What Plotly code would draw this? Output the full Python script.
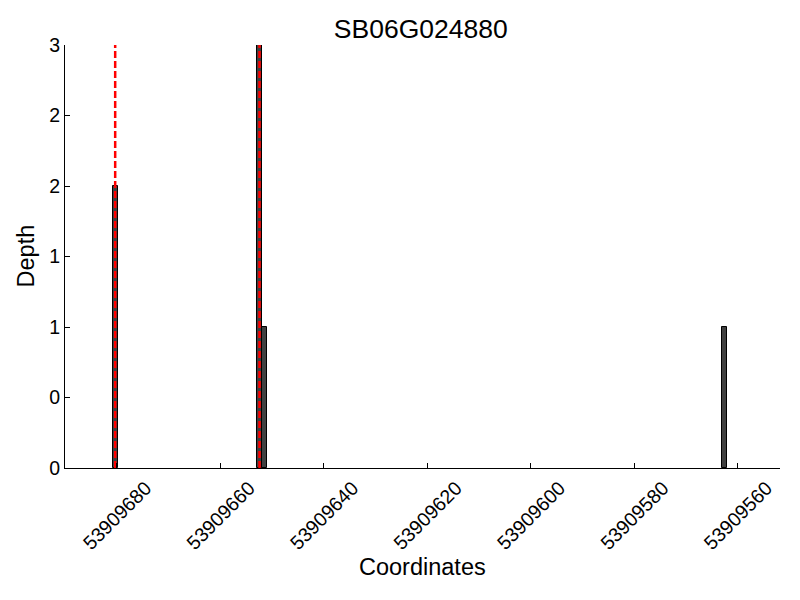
import plotly.graph_objects as go

title = "SB06G024880"
coords = [53909680.3, 53909652.45, 53909651.45, 53909562.45]
depth = [2, 3, 1, 1]
marker_lines = [53909680.3, 53909652.4]
x_ticks = [53909680, 53909660, 53909640, 53909620, 53909600, 53909580, 53909560]
y_ticks = [0, 0.5, 1, 1.5, 2, 2.5, 3]
y_tick_text = [str(int(v)) for v in y_ticks]

fig = go.Figure()
fig.add_trace(go.Bar(
    x=coords, y=depth, width=0.95,
    marker=dict(color="#404040", line=dict(color="black", width=1)),
    showlegend=False,
))
for xv in marker_lines:
    fig.add_trace(go.Scatter(
        x=[xv, xv], y=[y_ticks[0], y_ticks[-1]], mode="lines",
        line=dict(color="red", width=2.5, dash="7px,3px"),
        showlegend=False, hoverinfo="skip",
    ))

font_family = "Liberation Sans, Arial, sans-serif"
fig.update_layout(
    width=800, height=600,
    margin=dict(l=65, r=20, t=45, b=132, autoexpand=False),
    paper_bgcolor="white", plot_bgcolor="white",
    font=dict(family=font_family, color="black", size=19.5),
    title=dict(text=title, x=0.526, xanchor="center", y=0.952, yanchor="middle",
               font=dict(size=26.5, family=font_family, color="black")),
    bargap=0,
    annotations=[
        dict(text="Coordinates", xref="paper", yref="paper", x=0.5, y=-0.234,
             xanchor="center", yanchor="middle", showarrow=False,
             font=dict(size=23.5, family=font_family, color="black")),
        dict(text="Depth", xref="paper", yref="paper", x=-0.054, y=0.501,
             xanchor="center", yanchor="middle", showarrow=False, textangle=-90,
             font=dict(size=23.5, family=font_family, color="black")),
    ],
)
fig.update_xaxes(
    range=[53909690, 53909551.8], automargin=False,
    tickvals=x_ticks, ticktext=[str(v) for v in x_ticks],
    tickangle=-45, ticks="inside", ticklen=5, tickcolor="black",
    ticklabelshift=-29,
    showline=True, linecolor="black", linewidth=1.2, showgrid=False, zeroline=False,
    tickfont=dict(size=19.5),
)
fig.update_yaxes(
    range=[0, 3], automargin=False,
    tickvals=y_ticks, ticktext=y_tick_text,
    ticks="inside", ticklen=5, tickcolor="black",
    showline=True, linecolor="black", linewidth=1.2, showgrid=False, zeroline=False,
    tickfont=dict(size=19.5),
)
fig.write_html("out.html", config={"displayModeBar": False},
               post_script="document.body.style.margin='0';document.body.style.overflow='hidden';")
